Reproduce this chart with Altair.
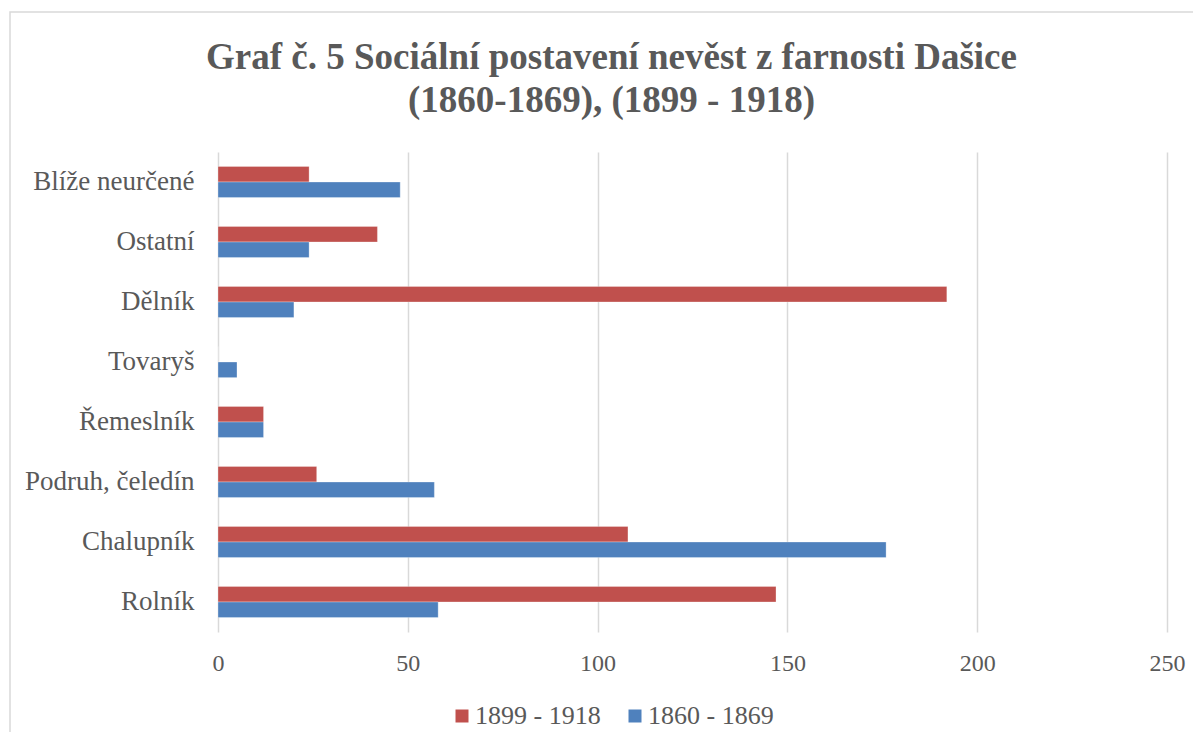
import altair as alt
import pandas as pd

categories = ["Blíže neurčené", "Ostatní\u00a0", "Dělník", "Tovaryš", "Řemeslník",
              "Podruh, čeledín", "Chalupník", "Rolník"]
series_names = ["1899 - 1918", "1860 - 1869"]
values_1899_1918 = [24, 42, 192, 0, 12, 26, 108, 147]
values_1860_1869 = [48, 24, 20, 5, 12, 57, 176, 58]
x_ticks = [0, 50, 100, 150, 200, 250]
colors = ["#C0504D", "#4F81BD"]

rows = []
for c, a, b in zip(categories, values_1899_1918, values_1860_1869):
    rows.append({"kategorie": c, "obdobi": series_names[0], "pocet": a})
    rows.append({"kategorie": c, "obdobi": series_names[1], "pocet": b})
df = pd.DataFrame(rows)

FONT = "Liberation Serif"
GREY = "#595959"

bars = alt.Chart(df).mark_bar(stroke="#ffffff", strokeWidth=0.5, strokeOpacity=0.6).encode(
    y=alt.Y("kategorie:N", sort=categories,
            scale=alt.Scale(paddingInner=0.48, paddingOuter=0.24),
            axis=alt.Axis(title=None, ticks=False, domain=False, grid=False,
                          labelFont=FONT, labelFontSize=27, labelColor=GREY,
                          labelPadding=24)),
    yOffset=alt.YOffset("obdobi:N", sort=series_names,
                        scale=alt.Scale(paddingInner=0, paddingOuter=0)),
    x=alt.X("pocet:Q", scale=alt.Scale(domain=[0, 250], nice=False),
            axis=alt.Axis(title=None, values=x_ticks, ticks=False, domain=False,
                          grid=True, gridColor="#d9d9d9", gridWidth=1.5,
                          labelFlush=False,
                          labelFont=FONT, labelFontSize=24, labelColor=GREY,
                          labelPadding=19)),
    color=alt.Color("obdobi:N", sort=series_names,
                    scale=alt.Scale(domain=series_names, range=colors),
                    legend=alt.Legend(title=None, orient="none", legendX=231, legendY=551,
                                      direction="horizontal", symbolType="square",
                                      symbolSize=169, symbolStrokeWidth=0,
                                      labelFont=FONT, labelFontSize=26, labelColor=GREY,
                                      labelOffset=0, columnPadding=21)),
)

frame = alt.Chart(pd.DataFrame({"k": [1]})).mark_rect(
    fillOpacity=0, stroke="#d9d9d9", strokeWidth=1.5
).encode(
    x=alt.value(-208), x2=alt.value(1400),
    y=alt.value(-140), y2=alt.value(1000),
)

chart = alt.layer(frame, bars).properties(
    width=949, height=480,
    padding={"left": 210, "top": 144, "right": 26, "bottom": 100},
    autosize=alt.AutoSizeParams(type="none"),
    title=alt.Title(
        text=["Graf č. 5 Sociální postavení nevěst z farnosti Dašice",
              "(1860-1869), (1899 - 1918)"],
        font=FONT, fontSize=37, fontWeight="bold", color=GREY,
        anchor="middle", frame="group", dx=-81, lineHeight=43,
        baseline="alphabetic", offset=-138,
    ),
).configure_view(stroke=None)

chart.save("out.html", embed_options={"renderer": "svg", "actions": False})
